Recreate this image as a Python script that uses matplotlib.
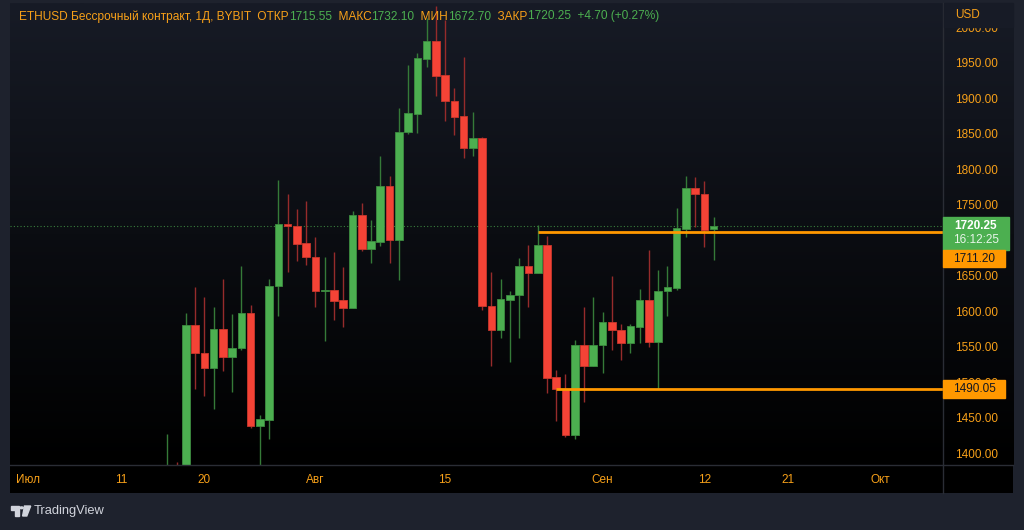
import matplotlib
matplotlib.use('Agg')
import matplotlib.pyplot as plt
import numpy as np
from matplotlib.patches import Rectangle, Polygon, Circle
from matplotlib.lines import Line2D
from matplotlib.colors import LinearSegmentedColormap

# ETHUSD daily candles, day number counted from 1 July
days = list(range(15, 75))
opens = [1330, 1355, 1340, 1581, 1541, 1520, 1575, 1535, 1548, 1597,
         1439, 1447, 1635, 1723, 1720, 1696, 1677, 1628, 1630, 1616,
         1605, 1736, 1688, 1698, 1776, 1700, 1852, 1878, 1956, 1981,
         1933, 1896, 1875, 1830, 1844, 1607, 1574, 1616, 1623, 1664,
         1654, 1694, 1507, 1490, 1426, 1552, 1523, 1553, 1585, 1574,
         1556, 1578, 1616, 1557, 1628, 1633, 1716, 1773, 1765, 1715.55]
highs = [1427, 1388, 1597, 1634, 1620, 1606, 1646, 1596, 1664, 1609,
         1454, 1645, 1785, 1765, 1744, 1756, 1704, 1676, 1684, 1662,
         1741, 1752, 1729, 1819, 1791, 1886, 1947, 1964, 2013, 2030,
         2010, 1914, 1958, 1881, 1846, 1656, 1646, 1628, 1675, 1693,
         1722, 1706, 1517, 1511, 1560, 1606, 1620, 1599, 1649, 1582,
         1582, 1631, 1686, 1658, 1664, 1746, 1790, 1789, 1783, 1732.10]
lows = [1310, 1325, 1335, 1491, 1481, 1462, 1516, 1487, 1545, 1435,
        1370, 1420, 1594, 1656, 1671, 1665, 1606, 1558, 1588, 1578,
        1604, 1685, 1668, 1692, 1668, 1644, 1850, 1851, 1944, 1903,
        1868, 1848, 1816, 1819, 1602, 1523, 1562, 1528, 1562, 1606,
        1654, 1485, 1446, 1423, 1420, 1472, 1523, 1513, 1545, 1532,
        1541, 1556, 1549, 1490, 1594, 1630, 1705, 1719, 1691, 1672.70]
closes = [1355, 1340, 1581, 1541, 1520, 1575, 1535, 1548, 1597, 1439,
          1448, 1636, 1723, 1720, 1695, 1676, 1628, 1630, 1615, 1605,
          1736, 1688, 1699, 1776, 1700, 1852, 1879, 1957, 1981, 1932,
          1896, 1874, 1830, 1844, 1607, 1574, 1617, 1623, 1664, 1654,
          1694, 1506, 1490, 1426, 1552, 1523, 1553, 1585, 1573, 1556,
          1579, 1616, 1557, 1629, 1634, 1717, 1773, 1765, 1714, 1720.25]

tick_days = [0, 10, 19, 31, 45, 62, 73, 82, 92]
tick_labels = ['Июл', '11', '20', 'Авг', '15', 'Сен', '12', '21', 'Окт']
price_ticks = np.arange(1400, 2001, 50)

levels = [1711.20, 1490.05]
level_start = [55, 57]
last_price = 1720.25
countdown = '16:12:25'

header = [('ETHUSD Бессрочный контракт, 1Д, BYBIT  ОТКР', 'o'), ('1715.55', 'g'),
          ('  МАКС', 'o'), ('1732.10', 'g'), ('  МИН', 'o'), ('1672.70', 'g'),
          ('  ЗАКР', 'o'), ('1720.25  +4.70 (+0.27%)', 'g')]

UP = '#4caf50'
DOWN = '#f44336'
UP_WICK = '#357a38'
DOWN_WICK = '#962b2b'
ORANGE = '#f7a019'
SEP = '#2a2d35'

plt.rcParams['font.family'] = ['Liberation Sans', 'DejaVu Sans']

W, H = 1024, 530
fig = plt.figure(figsize=(W / 100, H / 100), dpi=100, facecolor='#1e222d')


def fx(px):
    return px / W


def fy(py):
    return 1 - py / H


# panel background (gradient)
bg = fig.add_axes([fx(10), fy(492.5), fx(1013.3) - fx(10), fy(3) - fy(492.5)])
bg.set_xlim(0, 1)
bg.set_ylim(492.5, 3)
bg.axis('off')
cmap = LinearSegmentedColormap.from_list('bg', ['#171b26', '#0b0d12', '#000000'])
grad = np.linspace(0, 1, 256).reshape(-1, 1)
bg.imshow(grad, extent=(0, 1, 465, 3), aspect='auto', cmap=cmap)
bg.add_patch(Rectangle((0, 465), 1, 27.5, color='#000000'))

ax = fig.add_axes([fx(10), fy(465), fx(943.3) - fx(10), fy(3) - fy(465)])
ax.set_facecolor('none')
ax.set_xlim(-1.987, 98.8)
ax.set_ylim(1383.5, 2034.2)
for s in ax.spines.values():
    s.set_visible(False)

for d, o, h, l, c in zip(days, opens, highs, lows, closes):
    up = c >= o
    ax.vlines(d, l, h, color=UP_WICK if up else DOWN_WICK, lw=1, zorder=1)
    lo = min(o, c)
    ht = max(abs(c - o), 2.0)
    ax.add_patch(Rectangle((d - 0.41, lo), 0.82, ht, facecolor=UP if up else DOWN,
                           edgecolor='#3d8c40' if up else '#c9372c', lw=0.6, zorder=2))

ax.axhline(last_price, color=UP, lw=0.8, ls=(0, (1, 2)), alpha=0.7, zorder=0.5)
for lv, st in zip(levels, level_start):
    ax.hlines(lv, st, 98.8, color='#ff9800', lw=2, zorder=3)

ax.yaxis.tick_right()
ax.set_yticks(price_ticks)
ax.set_yticklabels(['%.2f' % p for p in price_ticks])
ax.set_xticks(tick_days)
ax.set_xticklabels(tick_labels)
ax.tick_params(axis='y', length=0, pad=8.4, labelcolor=ORANGE, labelsize=8.5)
ax.tick_params(axis='x', length=0, pad=6.5, labelcolor=ORANGE, labelsize=8.5)

# separators
fig.add_artist(Line2D([fx(943.3), fx(943.3)], [fy(3), fy(492.5)], color=SEP, lw=1))
fig.add_artist(Line2D([fx(10), fx(1013.3)], [fy(465), fy(465)], color=SEP, lw=1))

# price axis top cover + USD
fig.add_artist(Rectangle((fx(944), fy(26.5)), fx(1013) - fx(944), fy(3) - fy(26.5),
                         transform=fig.transFigure, color='#171b26', zorder=4))
fig.text(fx(955), fy(15), 'USD', color=ORANGE, fontsize=8.5, va='center', zorder=5)


def pix(price):
    # data price -> pixel row measured from top
    return H - ax.transData.transform((0, price))[1]


# price labels on the axis
p_last = pix(last_price)
g_top = p_last - 9
g_bot = p_last + 24
fig.add_artist(Rectangle((fx(943.4), fy(g_bot)), fx(1009.3) - fx(943.4), fy(g_top) - fy(g_bot),
                         transform=fig.transFigure, color=UP, zorder=6))
fig.text(fx(976), fy(p_last), '%.2f' % last_price, color='white', fontsize=8.5,
         fontweight='bold', ha='center', va='center', zorder=7)
fig.text(fx(976), fy(p_last + 14.5), countdown, color='#e8f5e9', fontsize=8.5,
         ha='center', va='center', zorder=7)

label_tops = [g_bot, pix(levels[1]) - 9]
for lv, top in zip(levels, label_tops):
    fig.add_artist(Rectangle((fx(943.4), fy(top + 17.5)), fx(1005.2) - fx(943.4), 17.5 / H,
                             transform=fig.transFigure, color='#ff9800', zorder=6))
    fig.text(fx(974.5), fy(top + 8.8), '%.2f' % lv, color='#131722', fontsize=8.5,
             ha='center', va='center', zorder=7)

# header line
renderer = fig.canvas.get_renderer()
x = 19
for txt, col in header:
    t = fig.text(fx(x), fy(16.5), txt, color=ORANGE if col == 'o' else '#4caf50',
                 fontsize=8.6, va='center', ha='left', zorder=8)
    x += t.get_window_extent(renderer).width

# TradingView mark
logo = '#d1d4dc'
fig.add_artist(Polygon([[fx(10.7), fy(506)], [fx(19.3), fy(506)], [fx(19.3), fy(516)],
                        [fx(14.5), fy(516)], [fx(14.5), fy(509.5)], [fx(10.7), fy(509.5)]],
                       closed=True, transform=fig.transFigure, color=logo))
fig.add_artist(Circle((fx(21.6), fy(507.8)), 1.7 / W, transform=fig.transFigure, color=logo))
fig.add_artist(Polygon([[fx(24.5), fy(506)], [fx(30.7), fy(506)], [fx(26.8), fy(516)],
                        [fx(22.6), fy(516)]], closed=True, transform=fig.transFigure, color=logo))
fig.text(fx(34), fy(511), 'TradingView', color=logo, fontsize=9.3, va='center', ha='left')

fig.savefig('out.png', dpi=100, facecolor=fig.get_facecolor())
